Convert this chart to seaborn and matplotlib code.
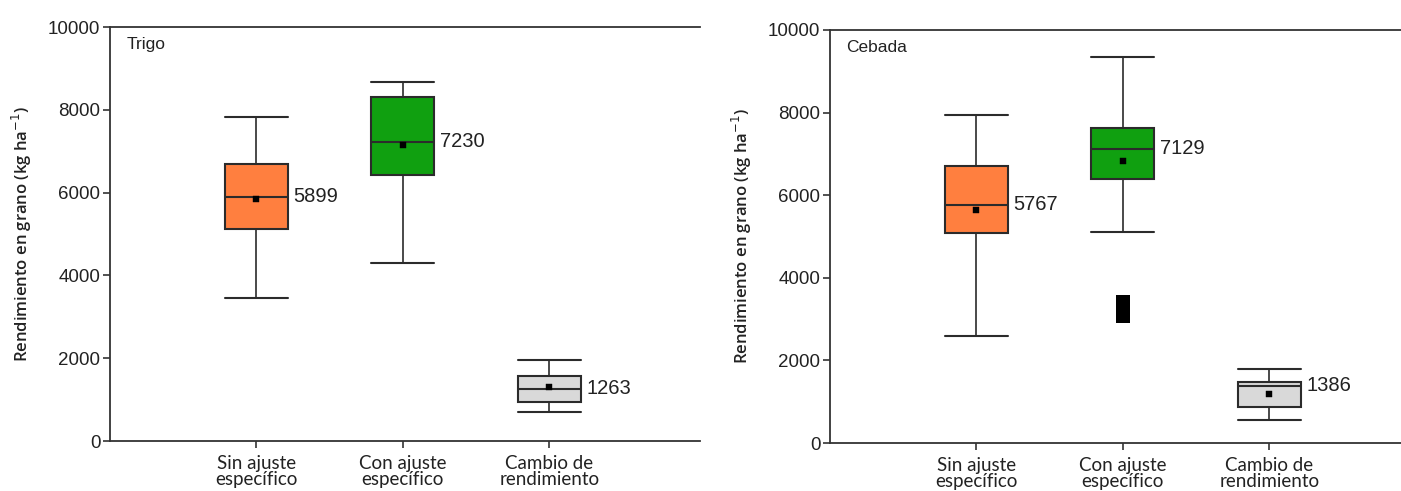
import numpy as np
import pandas as pd
import matplotlib
matplotlib.use("Agg")
import matplotlib.pyplot as plt
import seaborn as sns

sns.set_theme(style="white")
plt.rcParams["font.family"] = ["Liberation Sans", "DejaVu Sans"]

categories = ["Sin ajuste\nespecífico", "Con ajuste\nespecífico", "Cambio de\nrendimiento"]
box_colors = ["#FF7F3F", "#10A010", "#D9D9D9"]

# Five-number summaries per crop (kg/ha)
trigo_low = [3450, 4300, 700]
trigo_q1 = [5110, 6420, 950]
trigo_median = [5899, 7230, 1263]
trigo_q3 = [6690, 8310, 1560]
trigo_high = [7820, 8660, 1960]
trigo_mean = [5845, 7150, 1300]

cebada_low = [2590, 5120, 560]
cebada_q1 = [5080, 6390, 870]
cebada_median = [5767, 7129, 1386]
cebada_q3 = [6700, 7620, 1480]
cebada_high = [7930, 9350, 1800]
cebada_mean = [5640, 6820, 1190]
cebada_outliers = [3080, 3420]
cebada_outlier_group = 1


def summary_frame(low, q1, med, q3, high):
    rows = []
    for cat, vals in zip(categories, zip(low, q1, med, q3, high)):
        for v in vals:
            rows.append({"grupo": cat, "rendimiento": v})
    return pd.DataFrame(rows)


def draw_panel(ax, title, low, q1, med, q3, high, means, outliers=None, outlier_group=None):
    df = summary_frame(low, q1, med, q3, high)
    width = 0.43
    sns.boxplot(
        data=df, x="grupo", y="rendimiento", hue="grupo", order=categories,
        hue_order=categories, palette=box_colors, legend=False,
        whis=(0, 100), width=width, showfliers=False, linewidth=1.5,
        linecolor="#2b2b2b", capwidths=width, saturation=1, ax=ax,
        whiskerprops={"linewidth": 1.2}, capprops={"linewidth": 1.5},
    )
    mean_df = pd.DataFrame({"x": np.arange(len(categories)), "y": means})
    sns.scatterplot(data=mean_df, x="x", y="y", marker="s", s=14,
                    color="black", edgecolor="black", ax=ax, zorder=5)
    if outliers:
        out_df = pd.DataFrame({"x": [outlier_group] * len(outliers), "y": outliers})
        sns.scatterplot(data=out_df, x="x", y="y", marker="s", s=100,
                        color="black", edgecolor="black", linewidth=0, ax=ax, zorder=5)
    for i, m in enumerate(med):
        ax.text(i + width / 2 + 0.04, m, f"{m}", ha="left", va="center",
                fontsize=14.5, color="#222222")

    ax.set_xlim(-1, 3.03)
    ax.set_ylim(0, 10000)
    ax.set_yticks([0, 2000, 4000, 6000, 8000, 10000])
    ax.tick_params(axis="y", labelsize=13.5, length=5, width=1.2, color="#333333",
                   left=True, labelcolor="#222222", pad=2)
    ax.tick_params(axis="x", labelsize=13.5, length=5, width=1.2, color="#333333",
                   bottom=True, labelcolor="#222222", pad=5)
    for lab in ax.get_xticklabels():
        lab.set_fontfamily(["Lato", "DejaVu Sans"])
        lab.set_linespacing(0.95)
    ax.set_xlabel("")
    ax.set_ylabel("Rendimiento en grano (kg ha$^{-1}$)", fontsize=12,
                  fontfamily=["Open Sans", "DejaVu Sans"], fontweight="semibold",
                  color="#222222", labelpad=10)
    for side in ["left", "top", "bottom"]:
        ax.spines[side].set_color("#333333")
        ax.spines[side].set_linewidth(1.3)
    ax.spines["right"].set_visible(False)
    ax.text(0.028, 0.975, title, transform=ax.transAxes, ha="left", va="top",
            fontsize=12.5, color="#222222")


fig = plt.figure(figsize=(14.01, 4.91), dpi=100)
ax1 = fig.add_axes([110 / 1401, 50 / 491, 590 / 1401, 414 / 491])
ax2 = fig.add_axes([830 / 1401, 48 / 491, 590 / 1401, 413 / 491])

draw_panel(ax1, "Trigo", trigo_low, trigo_q1, trigo_median, trigo_q3, trigo_high, trigo_mean)
draw_panel(ax2, "Cebada", cebada_low, cebada_q1, cebada_median, cebada_q3, cebada_high,
           cebada_mean, cebada_outliers, cebada_outlier_group)

fig.savefig("out.png", dpi=100, facecolor="white")
